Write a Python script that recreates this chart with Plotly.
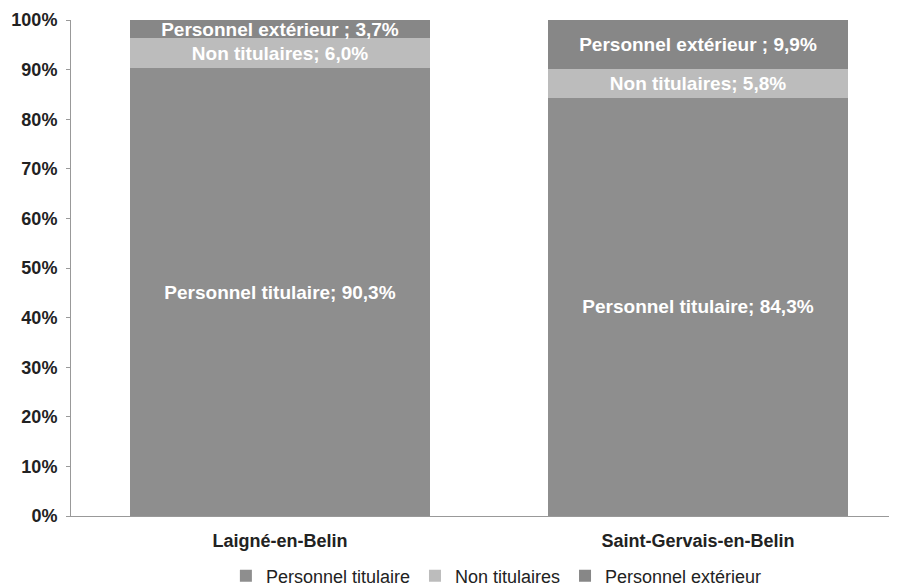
import plotly.graph_objects as go

categories = ["Laigné-en-Belin", "Saint-Gervais-en-Belin"]
series_names = ["Personnel titulaire", "Non titulaires", "Personnel extérieur"]
titulaire = [90.3, 84.3]
non_titulaires = [6.0, 5.8]
exterieur = [3.7, 9.9]
labels_titulaire = ["Personnel titulaire; 90,3%", "Personnel titulaire; 84,3%"]
labels_non = ["Non titulaires; 6,0%", "Non titulaires; 5,8%"]
labels_ext = ["Personnel extérieur ; 3,7%", "Personnel extérieur ; 9,9%"]
y_ticks = [0, 10, 20, 30, 40, 50, 60, 70, 80, 90, 100]
y_tick_labels = [f"{v}%" for v in y_ticks]

colors = ["#8e8e8e", "#bcbcbc", "#878787"]
font_family = "Liberation Sans, Arial, sans-serif"

fig = go.Figure()
for name, vals, labs, col in zip(series_names,
                                  [titulaire, non_titulaires, exterieur],
                                  [labels_titulaire, labels_non, labels_ext],
                                  colors):
    fig.add_trace(go.Bar(
        x=categories, y=vals, name=name,
        text=[f"<b>{t}</b>" for t in labs],
        textposition="inside", insidetextanchor="middle",
        textfont=dict(color="white", size=19, family=font_family),
        marker=dict(color=col, line=dict(width=0)),
        width=0.718, constraintext="none",
    ))

fig.update_layout(
    barmode="stack",
    width=889, height=579,
    margin=dict(l=63, r=0, t=12, b=71, autoexpand=False),
    paper_bgcolor="white", plot_bgcolor="white",
    font=dict(family=font_family, size=18, color="#222222"),
    uniformtext=dict(mode=False),
    legend=dict(orientation="h", x=0.515, xanchor="center", y=-0.121, yanchor="middle",
                font=dict(size=18, color="#222222"), traceorder="normal",
                itemwidth=30),
    showlegend=True,
)
fig.update_xaxes(range=[-0.5, 1.476], showline=True, linecolor="#999999", linewidth=1,
                 ticks="", tickfont=dict(size=18, color="#222222"), showgrid=False,
                 ticklabelstandoff=8,
                 tickvals=categories, ticktext=[f"<b>{c}</b>" for c in categories])
fig.update_yaxes(range=[0, 100], tickvals=y_ticks, ticktext=[f"<b>{t}</b>" for t in y_tick_labels],
                 showline=True, linecolor="#999999", linewidth=1,
                 ticks="outside", ticklen=4, tickcolor="#999999", ticklabelstandoff=5,
                 tickfont=dict(size=18, color="#222222"), showgrid=False, zeroline=False)

fig.write_html("out.html")
